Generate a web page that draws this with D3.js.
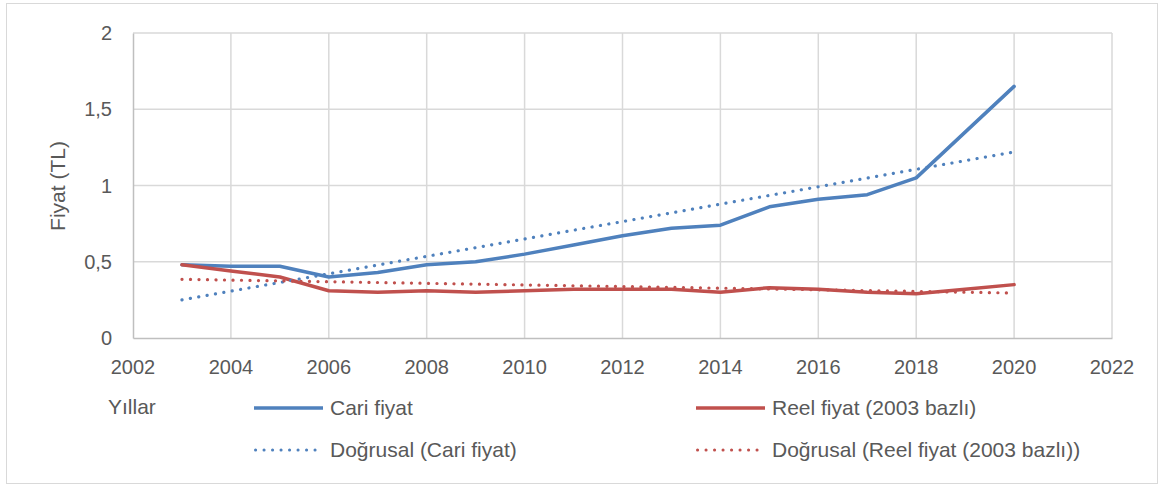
<!DOCTYPE html>
<html>
<head>
<meta charset="utf-8">
<title>Fiyat</title>
<script src="https://d3js.org/d3.v7.min.js"></script>
<style>
  body { margin: 0; background: #fff; overflow: hidden; }
  svg { display: block; }
  text { font-family: "Liberation Sans", Arial, sans-serif; fill: #595959; }
</style>
</head>
<body>
<svg id="mainsvg" width="1162" height="486"></svg>
<script>
// ---------- data ----------
const years = [2003, 2004, 2005, 2006, 2007, 2008, 2009, 2010, 2011, 2012,
               2013, 2014, 2015, 2016, 2017, 2018, 2019, 2020];
const cariFiyat = [0.48, 0.47, 0.47, 0.40, 0.43, 0.48, 0.50, 0.55, 0.61, 0.67,
                   0.72, 0.74, 0.86, 0.91, 0.94, 1.05, 1.35, 1.65];
const reelFiyat = [0.48, 0.44, 0.40, 0.31, 0.30, 0.31, 0.30, 0.31, 0.32, 0.32,
                   0.32, 0.30, 0.33, 0.32, 0.30, 0.29, 0.32, 0.35];
// linear trend lines (start / end values)
const trendYears = [2003, 2020];
const trendCari = [0.25, 1.22];
const trendReel = [0.385, 0.295];

const xTicks = d3.range(2002, 2023, 2);
const yTicks = [0, 0.5, 1, 1.5, 2];

const blue = "#4f81bd";
const red = "#c0504d";

// ---------- canvas ----------
const svg = d3.select("#mainsvg");
const margin = {left: 133, right: 50, top: 33, bottom: 148};
const width = +svg.attr("width"), height = +svg.attr("height");
const innerWidth = width - margin.left - margin.right;
const innerHeight = height - margin.top - margin.bottom;

// chart frame
svg.append("rect")
  .attr("x", 6.5).attr("y", 3.5)
  .attr("width", 1151).attr("height", 480)
  .attr("fill", "#fff").attr("stroke", "#d9d9d9").attr("stroke-width", 1);

// scales in page coordinates
const x = d3.scaleLinear().domain([2002, 2022]).range([margin.left, margin.left + innerWidth]);
const y = d3.scaleLinear().domain([0, 2]).range([margin.top + innerHeight, margin.top]);

// gridlines
svg.append("g").selectAll("line").data(yTicks.slice(1)).join("line")
  .attr("x1", x(2002)).attr("x2", x(2022))
  .attr("y1", d => y(d)).attr("y2", d => y(d))
  .attr("stroke", "#d9d9d9").attr("stroke-width", 1.5);
svg.append("g").selectAll("line").data(xTicks.slice(1)).join("line")
  .attr("x1", d => x(d)).attr("x2", d => x(d))
  .attr("y1", y(2)).attr("y2", y(0))
  .attr("stroke", "#d9d9d9").attr("stroke-width", 1.5);

// axis lines (labels drawn separately below)
const xAxis = svg.append("g").attr("transform", `translate(0,${y(0)})`)
  .call(d3.axisBottom(x).tickValues([]).tickSize(0));
const yAxis = svg.append("g").attr("transform", `translate(${x(2002)},0)`)
  .call(d3.axisLeft(y).tickValues([]).tickSize(0));
[xAxis, yAxis].forEach(a => a.select(".domain").attr("stroke", "#bfbfbf").attr("stroke-width", 1.5));

// tick labels
svg.append("g").selectAll("text").data(xTicks).join("text")
  .attr("x", d => x(d)).attr("y", y(0) + 36)
  .attr("text-anchor", "middle").attr("font-size", 20)
  .text(d3.format("d"));
svg.append("g").selectAll("text").data(yTicks).join("text")
  .attr("x", x(2002) - 21).attr("y", d => y(d) + 7)
  .attr("text-anchor", "end").attr("font-size", 20)
  .text(d => String(d).replace(".", ","));

// axis titles
svg.append("text")
  .attr("transform", "translate(65,186) rotate(-90)")
  .attr("text-anchor", "middle").attr("font-size", 21)
  .text("Fiyat (TL)");
svg.append("text").attr("x", 108).attr("y", 414).attr("font-size", 21).text("Yıllar");

// series
const line = d3.line().x(d => x(d[0])).y(d => y(d[1]));
const series = [
  {name: "Cari fiyat", color: blue, pts: d3.zip(years, cariFiyat), dash: null},
  {name: "Reel fiyat (2003 bazlı)", color: red, pts: d3.zip(years, reelFiyat), dash: null},
  {name: "Doğrusal (Cari fiyat)", color: blue, pts: d3.zip(trendYears, trendCari), dash: "0.1 8.4"},
  {name: "Doğrusal (Reel fiyat (2003 bazlı))", color: red, pts: d3.zip(trendYears, trendReel), dash: "0.1 8.4"}
];
series.forEach(s => {
  svg.append("path").datum(s.pts)
    .attr("d", line)
    .attr("fill", "none")
    .attr("stroke", s.color)
    .attr("stroke-width", s.dash ? 3.2 : 3.5)
    .attr("stroke-linecap", "round")
    .attr("stroke-linejoin", "round")
    .attr("stroke-dasharray", s.dash);
});

// legend
const legendPos = [
  {x: 254, y: 408}, {x: 696, y: 408},
  {x: 254, y: 450}, {x: 696, y: 450}
];
series.forEach((s, i) => {
  const p = legendPos[i];
  svg.append("line")
    .attr("x1", p.x + (s.dash ? 1.5 : 0)).attr("x2", p.x + 69)
    .attr("y1", p.y).attr("y2", p.y)
    .attr("stroke", s.color)
    .attr("stroke-width", s.dash ? 3 : 3.5)
    .attr("stroke-linecap", s.dash ? "round" : "butt")
    .attr("stroke-dasharray", s.dash ? "0.1 8.4" : null);
  svg.append("text")
    .attr("x", p.x + 76).attr("y", p.y + 7)
    .attr("font-size", 21)
    .text(s.name);
});
</script>
</body>
</html>
